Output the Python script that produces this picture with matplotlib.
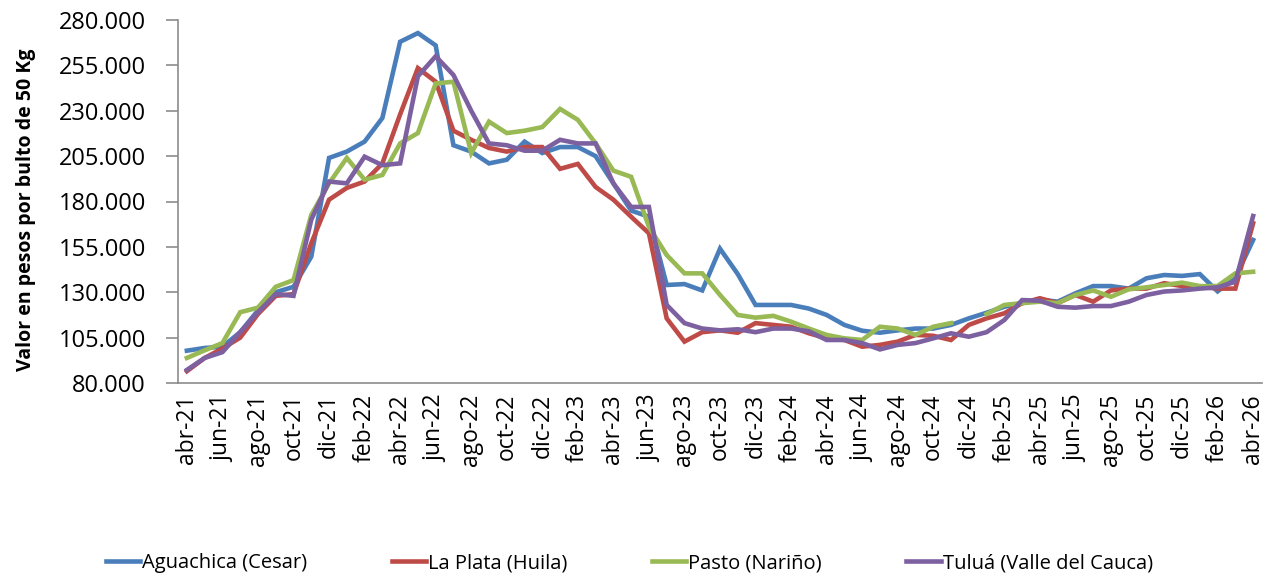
import matplotlib
matplotlib.use('Agg')
import matplotlib.pyplot as plt
from matplotlib.ticker import FuncFormatter, FixedLocator
import numpy as np

plt.rcParams['font.family'] = ['Open Sans', 'DejaVu Sans']

# months abr-21 .. abr-26
meses = ['ene', 'feb', 'mar', 'abr', 'may', 'jun', 'jul', 'ago', 'sep', 'oct', 'nov', 'dic']
fechas = []
for k in range(61):
	m = (3 + k) % 12
	a = 21 + (3 + k) // 12
	fechas.append('%s-%d' % (meses[m], a))

aguachica = [97.8, 99.3, 100.0, 108.0, 120.0, 130.0, 133.0, 149.6, 204.0, 207.5,
	213.0, 226.0, 268.0, 272.8, 266.0, 211.0, 207.5, 201.0, 203.0, 213.0,
	206.7, 210.0, 210.0, 205.0, 190.0, 175.0, 171.6, 134.0, 134.5, 131.0,
	154.0, 140.0, 123.0, 123.0, 123.0, 121.0, 117.5, 112.0, 108.8, 107.7,
	109.0, 110.0, 110.0, 112.0, 115.6, 118.7, 122.0, 124.0, 126.0, 124.8,
	129.4, 133.4, 133.4, 132.0, 137.7, 139.5, 139.0, 140.0, 130.5, 138.0,
	158.8]
la_plata = [86.5, 93.8, 99.0, 105.0, 118.0, 128.0, 129.0, 157.0, 181.0, 187.5,
	191.0, 201.0, 228.0, 253.5, 246.0, 219.0, 214.0, 209.5, 207.5, 210.0,
	210.0, 198.0, 200.7, 188.0, 181.0, 171.6, 162.5, 115.6, 102.8, 108.0,
	109.0, 107.7, 113.0, 112.0, 111.0, 107.4, 104.6, 103.7, 100.0, 101.0,
	102.8, 106.5, 106.0, 103.7, 112.0, 115.6, 118.4, 124.0, 126.7, 124.0,
	128.5, 124.8, 131.0, 132.0, 132.0, 135.0, 133.4, 133.0, 132.0, 132.0,
	168.0]
pasto = [93.8, 98.0, 102.0, 119.0, 121.5, 133.0, 136.7, 172.6, 190.0, 204.0,
	192.0, 194.6, 212.0, 217.7, 245.0, 246.0, 206.7, 224.0, 217.7, 219.0,
	221.0, 231.0, 225.0, 212.0, 197.0, 193.6, 166.0, 150.5, 140.4, 140.4,
	128.5, 117.5, 116.0, 117.0, 113.8, 110.0, 106.5, 104.6, 103.7, 111.0,
	110.0, 106.5, 111.0, 113.0, np.nan, 118.0, 123.0, 124.0, 124.8, 124.0,
	128.5, 131.0, 127.5, 131.6, 132.7, 134.0, 135.3, 133.4, 133.4, 140.4,
	141.3]
tulua = [87.2, 93.8, 97.0, 108.0, 119.0, 129.0, 128.0, 170.0, 191.0, 190.0,
	204.7, 200.0, 201.0, 249.0, 260.0, 249.7, 230.0, 212.0, 211.0, 208.0,
	208.0, 214.0, 212.0, 212.0, 190.0, 177.0, 177.0, 123.0, 113.0, 110.0,
	109.0, 109.6, 108.0, 110.0, 110.0, 108.5, 103.7, 103.7, 102.0, 98.5,
	101.0, 102.0, 104.6, 107.4, 105.5, 108.0, 114.7, 125.7, 125.3, 122.0,
	121.5, 122.4, 122.4, 124.8, 128.5, 130.4, 131.0, 132.0, 132.7, 135.8,
	172.0]

series = [
	('Aguachica (Cesar)', aguachica, '#4A7EBB'),
	('La Plata (Huila)', la_plata, '#BE4B48'),
	('Pasto (Nariño)', pasto, '#98B954'),
	('Tuluá (Valle del Cauca)', tulua, '#7D60A0'),
]

fig = plt.figure(figsize=(12.66, 5.75), dpi=100)
ax = fig.add_axes([178/1266, 1 - 383/575, (1262 - 178)/1266, (383 - 20)/575])

x = np.arange(len(fechas))
for nombre, vals, col in series:
	ax.plot(x, np.array(vals) * 1000, color=col, lw=3.3, label=nombre,
		solid_joinstyle='miter')

ax.set_xlim(-0.5, len(fechas) - 0.5)
ax.set_ylim(80000, 280000)
ax.yaxis.set_major_locator(FixedLocator(np.arange(80000, 280001, 25000)))
ax.yaxis.set_major_formatter(FuncFormatter(lambda v, p: '{:,.0f}'.format(v).replace(',', '.')))
ax.set_xticks(x[::2])
ax.set_xticklabels(fechas[::2], rotation=90, fontsize=16.5)
ax.tick_params(axis='x', length=0, pad=8)
ax.tick_params(axis='y', length=9, width=1.2, color='#8c8c8c', labelsize=17, pad=14)

for s in ['top', 'right']:
	ax.spines[s].set_visible(False)
for s in ['left', 'bottom']:
	ax.spines[s].set_color('#8c8c8c')
	ax.spines[s].set_linewidth(1.2)

ax.set_ylabel('Valor en pesos por bulto de 50 Kg', fontsize=14, fontweight='bold')
ax.yaxis.set_label_coords(-0.131, 0.477)

fig.legend(loc='center', bbox_to_anchor=(0.497, 1 - 563/575), ncol=4, frameon=False,
	fontsize=14.5, handlelength=1.7, handletextpad=0.1, columnspacing=4.2)

fig.savefig('out.png', dpi=100)
